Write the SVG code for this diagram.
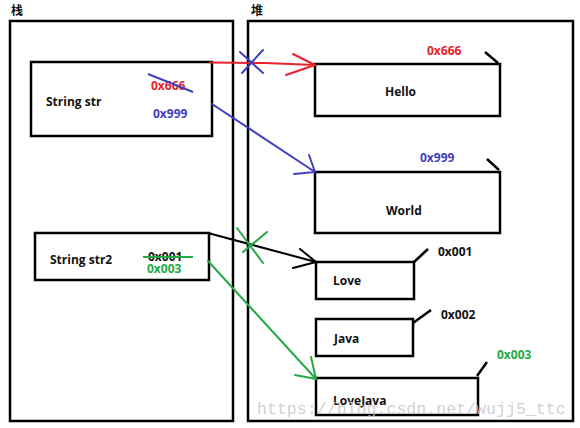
<svg xmlns="http://www.w3.org/2000/svg" width="580" height="428" viewBox="0 0 580 428">
<style>
.box{fill:none;stroke:#000;stroke-width:2.5}
.t{font-family:"Open Sans","Noto Sans","Noto Sans CJK SC",sans-serif;font-weight:bold;font-size:12px;fill:#111}
.red{fill:#e8222a}.blue{fill:#4040c0}.green{fill:#22aa44}
.ln{fill:none;stroke-width:2;stroke-linecap:round;stroke-linejoin:round}
.tick{stroke:#000;stroke-width:2.5;fill:none}
</style>
<rect width="580" height="428" fill="#fff"/>
<g id="stack">
<rect class="box" x="10" y="21" width="223" height="400"/>
<text class="t" x="11" y="15" font-size="11">栈</text>
</g>
<g id="heap">
<rect class="box" x="248" y="21" width="325" height="400"/>
<text class="t" x="251" y="15" font-size="11">堆</text>
</g>
<g id="str">
<rect class="box" x="31" y="62" width="181" height="74"/>
<text class="t" x="46" y="106">String str</text>
<text class="t red" x="151" y="90">0x666</text>
<text class="t blue" x="153" y="118">0x999</text>
<line x1="148" y1="74" x2="193" y2="92" stroke="#4040c0" stroke-width="2"/>
</g>
<g id="str2">
<rect class="box" x="35" y="233" width="174" height="47"/>
<text class="t" x="50" y="264">String str2</text>
<text class="t" x="148" y="261">0x001</text>
<line x1="143" y1="257" x2="193" y2="257" stroke="#22aa44" stroke-width="2"/>
<text class="t green" x="147" y="273">0x003</text>
</g>
<g id="hello">
<rect class="box" x="315" y="64" width="185" height="52"/>
<text class="t" x="385" y="96">Hello</text>
<text class="t red" x="427" y="55">0x666</text>
<line class="tick" x1="485" y1="52" x2="498" y2="63"/>
</g>
<g id="world">
<rect class="box" x="315" y="172" width="185" height="61"/>
<text class="t" x="386" y="215">World</text>
<text class="t blue" x="420" y="162">0x999</text>
<line class="tick" x1="487" y1="159" x2="499" y2="170"/>
</g>
<g id="love">
<rect class="box" x="316" y="262" width="98" height="37"/>
<text class="t" x="333" y="285">Love</text>
<text class="t" x="438" y="256">0x001</text>
<line class="tick" x1="414" y1="262" x2="428" y2="249"/>
</g>
<g id="java">
<rect class="box" x="316" y="319" width="97" height="37"/>
<text class="t" x="334" y="343">Java</text>
<text class="t" x="441" y="319">0x002</text>
<line class="tick" x1="413" y1="323" x2="431" y2="310"/>
</g>
<g id="lovejava">
<rect class="box" x="316" y="378" width="162" height="37"/>
<text class="t" x="333" y="405">LoveJava</text>
<text class="t green" x="497" y="359">0x003</text>
<line class="tick" x1="477" y1="376" x2="487" y2="362"/>
</g>
<g id="connectors">
<path class="ln" stroke="#e8222a" d="M210 62.5 L265 63 L315 65 M293 54 L315 65 L286 75"/>
<path class="ln" stroke="#4040c0" d="M240 52 L263 73 M263 50 L242 73"/>
<path class="ln" stroke="#4040c0" d="M212 104 L315 172 M309 155 L315 172 L294 174"/>
<path class="ln" stroke="#000" d="M208 233 L316 262 M300 249 L316 262 L293 268"/>
<path class="ln" stroke="#22aa44" d="M237 228 L263 263 M267 232 L243 252"/>
<path class="ln" stroke="#22aa44" d="M208 261 L316 379 M311 357 L316 379 L295 375"/>
</g>
<text x="257" y="414" font-family="Liberation Mono,monospace" font-size="16.6" fill="#c8c8c8" fill-opacity="0.85">https://blog.csdn.net/wujj5_ttc</text>
</svg>
